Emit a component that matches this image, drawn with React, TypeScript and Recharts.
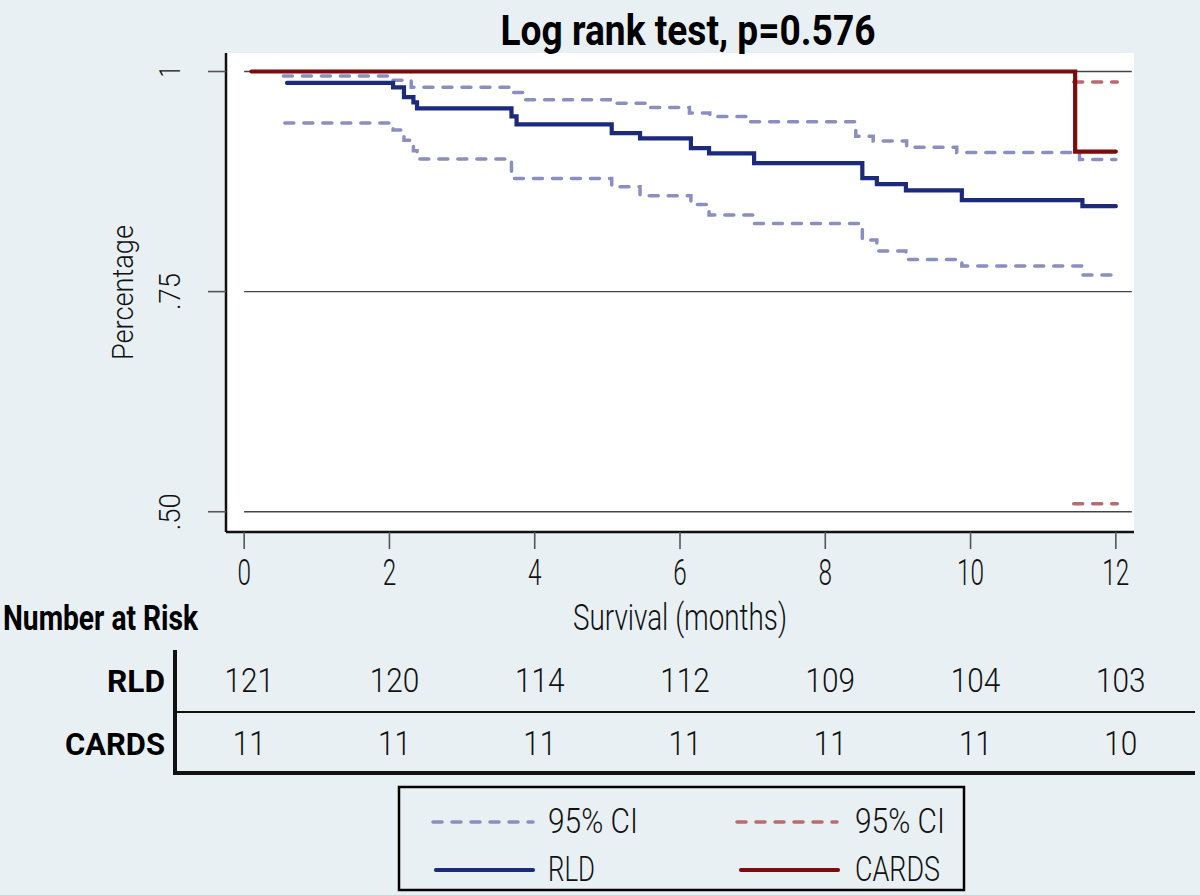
import React from 'react';
import { LineChart, Line, XAxis, YAxis, CartesianGrid, ReferenceLine, Label } from 'recharts';

const FONT = 'Roboto, "Liberation Sans Narrow", "DejaVu Sans Condensed", sans-serif';
const LIGHT = 'Roboto, "Liberation Sans Narrow", "DejaVu Sans Condensed", sans-serif';
const LW = 300;

// axis ticks
const xTicks = [0, 2, 4, 6, 8, 10, 12];
const yTicks = [0.5, 0.75, 1];
const yTickLabels = ['.50', '.75', '1'];

// number at risk
const riskRLD = [121, 120, 114, 112, 109, 104, 103];
const riskCARDS = [11, 11, 11, 11, 11, 11, 10];

// RLD Kaplan-Meier estimate
const rldTime = [0.59, 2.05, 2.2, 2.33, 2.38, 3.68, 3.75, 5.06, 5.45, 6.15, 6.4, 7.02, 8.51, 8.71, 9.11, 9.88, 11.54, 12.0];
const rldSurv = [0.987, 0.982, 0.971, 0.965, 0.958, 0.949, 0.94, 0.93, 0.924, 0.913, 0.907, 0.896, 0.879, 0.872, 0.865, 0.854, 0.847, 0.847];

// RLD 95% CI upper
const rldUpTime = [0.54, 2.05, 2.3, 3.66, 3.84, 5.04, 5.52, 6.13, 6.41, 6.96, 8.42, 8.66, 9.12, 9.81, 11.5, 12.0];
const rldUpVal = [0.995, 0.99, 0.982, 0.976, 0.968, 0.964, 0.959, 0.953, 0.949, 0.943, 0.9265, 0.921, 0.914, 0.908, 0.9, 0.9];

// RLD 95% CI lower
const rldLoTime = [0.56, 2.05, 2.2, 2.33, 2.38, 3.68, 5.06, 5.45, 6.15, 6.4, 7.02, 8.51, 8.71, 9.11, 9.88, 11.54, 12.0];
const rldLoVal = [0.9415, 0.9335, 0.922, 0.91, 0.9006, 0.8786, 0.869, 0.859, 0.849, 0.837, 0.8275, 0.8085, 0.796, 0.7866, 0.779, 0.769, 0.769];

// CARDS Kaplan-Meier estimate
const cardsTime = [0.1, 11.44, 12.0];
const cardsSurv = [1.0, 0.909, 0.909];

// CARDS 95% CI
const cardsUpTime = [11.42, 12.02];
const cardsUpVal = [0.988, 0.988];
const cardsLoTime = [11.42, 12.02];
const cardsLoVal = [0.509, 0.509];

const toData = (ts: number[], vs: number[]) => ts.map((t, i) => ({ t, s: vs[i] }));

const rldData = toData(rldTime, rldSurv);
const rldUpData = toData(rldUpTime, rldUpVal);
const rldLoData = toData(rldLoTime, rldLoVal);
const cardsData = toData(cardsTime, cardsSurv);
const cardsUpData = toData(cardsUpTime, cardsUpVal);
const cardsLoData = toData(cardsLoTime, cardsLoVal);

const NAVY = '#1c2a7c';
const DARKRED = '#7e0a0c';
const BLUECI = '#8a8fbf';
const REDCI = '#b96a73';
const BG = '#e9f0f3';
const TXT = '#111111';

const XTickMain = (props: any) => {
  const { x, y, payload } = props;
  const s = String(payload.value);
  return (
    <text x={x} y={y + 34} textAnchor="middle" fontSize={37} fontFamily={LIGHT} fontWeight={LW} fill={TXT}
      textLength={s.length * 13.5} lengthAdjust="spacingAndGlyphs">{s}</text>
  );
};

const makeRiskTick = (arr: number[], dy: number) => (props: any) => {
  const { x, y, payload } = props;
  const i = xTicks.indexOf(payload.value);
  const s = i >= 0 ? String(arr[i]) : '';
  return (
    <text x={x + 5} y={y + dy} textAnchor="middle" fontSize={34} fontFamily={LIGHT} fontWeight={LW} fill={TXT}
      textLength={s.length * 16.5} lengthAdjust="spacingAndGlyphs">{s}</text>
  );
};

const RiskTickRLD = makeRiskTick(riskRLD, 52);
const RiskTickCARDS = makeRiskTick(riskCARDS, 43);

const YTick = (props: any) => {
  const { x, y, payload } = props;
  const i = yTicks.indexOf(payload.value);
  const lx = x - 26;
  const s = yTickLabels[i];
  return (
    <text transform={`rotate(-90 ${lx} ${y})`} x={lx} y={y} textAnchor="middle" fontSize={30}
      fontFamily={LIGHT} fontWeight={LW} fill={TXT}
      textLength={s.length === 1 ? 12 : 37} lengthAdjust="spacingAndGlyphs">{s}</text>
  );
};

const YTitle = (props: any) => {
  const vb = props.viewBox || { x: 0, y: 53, width: 226, height: 479 };
  const cx = vb.x + 133;
  const cy = vb.y + vb.height / 2;
  return (
    <text transform={`rotate(-90 ${cx} ${cy})`} x={cx} y={cy} textAnchor="middle" fontSize={30}
      fontFamily={LIGHT} fontWeight={LW} fill={TXT} textLength={135} lengthAdjust="spacingAndGlyphs">Percentage</text>
  );
};

const XTitle = (props: any) => {
  const vb = props.viewBox || { x: 226, y: 532, width: 908, height: 108 };
  return (
    <text x={vb.x + vb.width / 2} y={vb.y + 98} textAnchor="middle" fontSize={37} fontFamily={LIGHT} fontWeight={LW}
      fill={TXT} textLength={214} lengthAdjust="spacingAndGlyphs">Survival (months)</text>
  );
};

export default function App() {
  return (
    <div style={{ position: 'absolute', left: 0, top: 0, width: 1200, height: 895, background: BG, overflow: 'hidden' }}>
      <LineChart width={1200} height={895} margin={{ top: 53, right: 66, bottom: 122, left: 0 }}>
        <CartesianGrid fill="#ffffff" horizontal={false} vertical={false} />
        <XAxis xAxisId={0} dataKey="t" type="number" domain={[-0.25, 12.25]} allowDataOverflow ticks={xTicks}
          interval={0} height={108} tickSize={17} tickMargin={2}
          axisLine={{ stroke: '#111', strokeWidth: 2.5 }} tickLine={{ stroke: '#555', strokeWidth: 1.6 }}
          tick={<XTickMain />} label={<Label content={<XTitle />} />} />
        <XAxis xAxisId={1} dataKey="t" type="number" domain={[-0.25, 12.25]} allowDataOverflow ticks={xTicks}
          interval={0} height={72} tickSize={0} tickMargin={0} axisLine={false} tickLine={false}
          tick={<RiskTickRLD />} />
        <XAxis xAxisId={2} dataKey="t" type="number" domain={[-0.25, 12.25]} allowDataOverflow ticks={xTicks}
          interval={0} height={61} tickSize={0} tickMargin={0} axisLine={false} tickLine={false}
          tick={<RiskTickCARDS />} />
        <YAxis type="number" domain={[0.477, 1.021]} allowDataOverflow ticks={yTicks} interval={0} width={226}
          tickSize={18} tickMargin={2} axisLine={{ stroke: '#111', strokeWidth: 2.5 }}
          tickLine={{ stroke: '#555', strokeWidth: 1.6 }} tick={<YTick />}
          label={<Label content={<YTitle />} />} />
        {yTicks.map((v) => (
          <ReferenceLine key={v} segment={[{ x: 0, y: v }, { x: 12.22, y: v }]} stroke="#444" strokeWidth={1.4} />
        ))}
        <Line data={rldUpData} dataKey="s" type="stepAfter" stroke={BLUECI} strokeWidth={3.5}
          strokeDasharray="9 10" strokeLinecap="round" dot={false} activeDot={false} isAnimationActive={false} />
        <Line data={rldLoData} dataKey="s" type="stepAfter" stroke={BLUECI} strokeWidth={3.5}
          strokeDasharray="9 10" strokeLinecap="round" dot={false} activeDot={false} isAnimationActive={false} />
        <Line data={rldData} dataKey="s" type="stepAfter" stroke={NAVY} strokeWidth={4.2}
          strokeLinecap="round" dot={false} activeDot={false} isAnimationActive={false} />
        <Line data={cardsUpData} dataKey="s" type="stepAfter" stroke={REDCI} strokeWidth={3.5}
          strokeDasharray="9 10" strokeLinecap="round" dot={false} activeDot={false} isAnimationActive={false} />
        <Line data={cardsLoData} dataKey="s" type="stepAfter" stroke={REDCI} strokeWidth={3.5}
          strokeDasharray="9 10" strokeLinecap="round" dot={false} activeDot={false} isAnimationActive={false} />
        <Line data={cardsData} dataKey="s" type="stepAfter" stroke={DARKRED} strokeWidth={4.2}
          strokeLinecap="round" dot={false} activeDot={false} isAnimationActive={false} />
      </LineChart>
      <svg width={1200} height={895} style={{ position: 'absolute', left: 0, top: 0, pointerEvents: 'none' }}>
        <text x={688} y={45} textAnchor="middle" fontSize={42} fontWeight={700} fontFamily={FONT} fill="#000"
          textLength={375} lengthAdjust="spacingAndGlyphs">Log rank test, p=0.576</text>
        <text x={3} y={630} fontSize={35} fontWeight={700} fontFamily={FONT} fill="#000"
          textLength={195} lengthAdjust="spacingAndGlyphs">Number at Risk</text>
        <text x={165} y={692} textAnchor="end" fontSize={31} fontWeight={700} fontFamily={FONT} fill="#000"
          textLength={58} lengthAdjust="spacingAndGlyphs">RLD</text>
        <text x={165} y={755} textAnchor="end" fontSize={31} fontWeight={700} fontFamily={FONT} fill="#000"
          textLength={100} lengthAdjust="spacingAndGlyphs">CARDS</text>
        <line x1={175} y1={650} x2={175} y2={775} stroke="#111" strokeWidth={4} />
        <line x1={175} y1={712} x2={1195} y2={712} stroke="#111" strokeWidth={2.2} />
        <line x1={173} y1={773} x2={1195} y2={773} stroke="#111" strokeWidth={4} />
        {/* legend */}
        <rect x={399} y={787} width={565} height={103} fill="none" stroke="#000" strokeWidth={2.5} />
        <line x1={433} y1={822} x2={533} y2={822} stroke={BLUECI} strokeWidth={3.5} strokeDasharray="9 10" strokeLinecap="round" />
        <text x={548} y={833} fontSize={35} fontFamily={LIGHT} fontWeight={LW} fill={TXT} textLength={90} lengthAdjust="spacingAndGlyphs">95% CI</text>
        <line x1={436} y1={870} x2={533} y2={870} stroke={NAVY} strokeWidth={4.2} strokeLinecap="round" />
        <text x={548} y={881} fontSize={35} fontFamily={LIGHT} fontWeight={LW} fill={TXT} textLength={47} lengthAdjust="spacingAndGlyphs">RLD</text>
        <line x1={737} y1={822} x2={837} y2={822} stroke={REDCI} strokeWidth={3.5} strokeDasharray="9 10" strokeLinecap="round" />
        <text x={855} y={833} fontSize={35} fontFamily={LIGHT} fontWeight={LW} fill={TXT} textLength={90} lengthAdjust="spacingAndGlyphs">95% CI</text>
        <line x1={741} y1={870} x2={838} y2={870} stroke={DARKRED} strokeWidth={4.2} strokeLinecap="round" />
        <text x={855} y={881} fontSize={35} fontFamily={LIGHT} fontWeight={LW} fill={TXT} textLength={85} lengthAdjust="spacingAndGlyphs">CARDS</text>
      </svg>
    </div>
  );
}
